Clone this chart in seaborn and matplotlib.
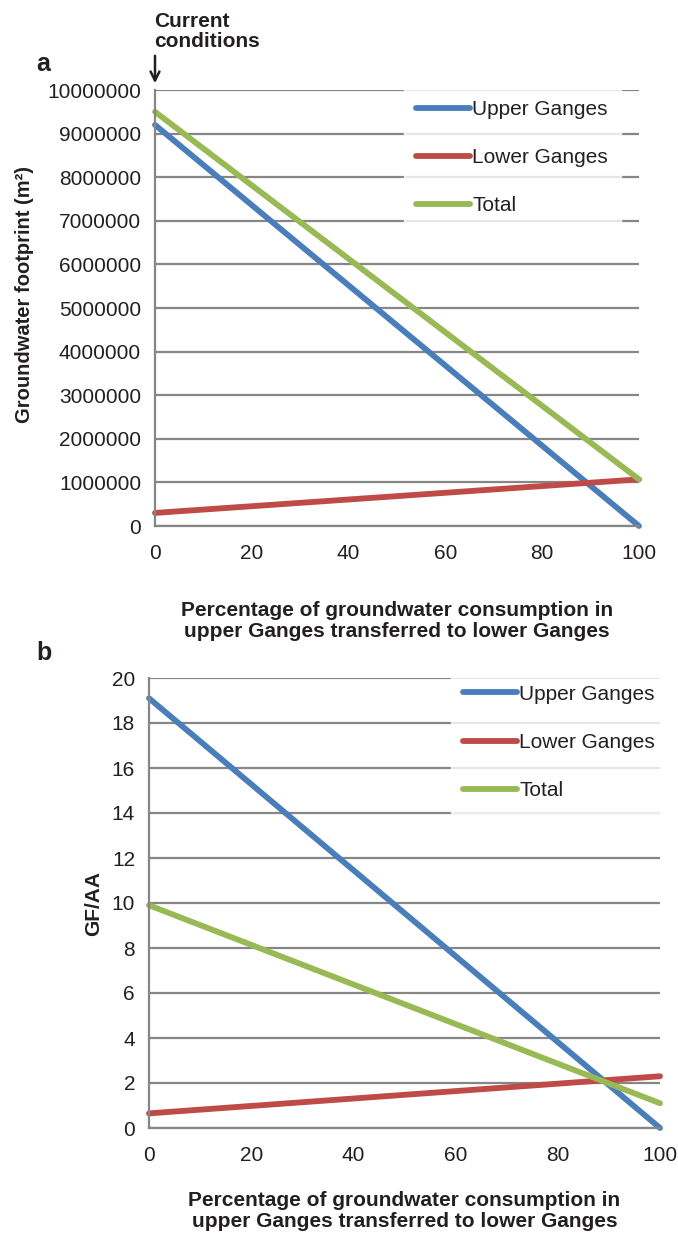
import pandas as pd
import numpy as np
import matplotlib
matplotlib.use("Agg")
import matplotlib.pyplot as plt
import seaborn as sns

# percentage of upper Ganges groundwater consumption moved downstream
pct = [0, 100]
series_names = ["Upper Ganges", "Lower Ganges", "Total"]

# panel a: groundwater footprint (m2)
gf_upper = [9200000, 0]
gf_lower = [300000, 1070000]
gf_total = [9500000, 1070000]

# panel b: GF/AA
ratio_upper = [19.1, 0.0]
ratio_lower = [0.65, 2.3]
ratio_total = [9.9, 1.1]

xlab = "Percentage of groundwater consumption in\nupper Ganges transferred to lower Ganges"

sns.set_style("white")
plt.rcParams["font.family"] = ["Liberation Sans", "DejaVu Sans"]

colors = {"Upper Ganges": "#4A7EBB", "Lower Ganges": "#BE4B48", "Total": "#98B954"}
grid_c = "#868686"
text_c = "#231F20"
W, H = 678, 1235


def long_df(up, lo, tot):
    rows = []
    for name, vals in zip(series_names, [up, lo, tot]):
        for x, v in zip(pct, vals):
            rows.append({"pct": x, "val": v, "series": name})
    return pd.DataFrame(rows)


def style_axes(ax, yticks, ymax, labelpad):
    ax.set_xlim(0, 100)
    ax.set_ylim(0, ymax)
    ax.set_xticks([0, 20, 40, 60, 80, 100])
    ax.set_yticks(yticks)
    ax.yaxis.grid(True, color=grid_c, linewidth=1.6)
    ax.xaxis.grid(False)
    ax.set_axisbelow(True)
    for s in ["top", "right"]:
        ax.spines[s].set_visible(False)
    for s in ["left", "bottom"]:
        ax.spines[s].set_color(grid_c)
        ax.spines[s].set_linewidth(1.6)
    ax.tick_params(axis="both", direction="out", length=5, width=1.3, color=grid_c,
                   labelsize=15, labelcolor=text_c, pad=5)
    ax.tick_params(axis="x", pad=8)
    ax.set_xlabel(xlab, fontsize=15, fontweight="bold", color=text_c, labelpad=labelpad,
                  linespacing=1.1)
    for ln in ax.lines:
        ln.set_solid_capstyle("round")
        ln.set_clip_on(False)


def add_legend(ax, anchor):
    handles = [plt.Line2D([], [], color=colors[n], lw=4.2, solid_capstyle="round")
               for n in series_names]
    leg = ax.legend(handles, series_names, loc="upper left", bbox_to_anchor=anchor,
                    frameon=True, fontsize=15, handlelength=2.6, handletextpad=0.1,
                    labelspacing=1.4, borderpad=0.6, fancybox=False)
    leg.get_frame().set_facecolor("white")
    leg.get_frame().set_edgecolor("white")
    for t in leg.get_texts():
        t.set_color(text_c)


fig = plt.figure(figsize=(W / 100, H / 100), dpi=100)

# ---- panel a
ax1 = fig.add_axes([155 / W, 1 - 526 / H, 484 / W, 436 / H])
sns.lineplot(data=long_df(gf_upper, gf_lower, gf_total), x="pct", y="val", hue="series",
             palette=colors, linewidth=4.2, ax=ax1, legend=False)
style_axes(ax1, np.arange(0, 10000001, 1000000), 10000000, 27.5)
ax1.ticklabel_format(axis="y", style="plain", useOffset=False)
ax1.set_ylabel("Groundwater footprint (m²)", fontsize=14.5, fontweight="bold", color=text_c)
ax1.yaxis.set_label_coords(-0.25, 0.53)
add_legend(ax1, (0.492, 1.03))

fig.text(36 / W, 1 - 64 / H, "a", fontsize=18, fontweight="bold", color=text_c,
         ha="left", va="center")
fig.text(154 / W, 1 - 31.5 / H, "Current\nconditions", fontsize=15, fontweight="bold",
         color=text_c, ha="left", va="center", linespacing=1.1)
ax1.annotate("", xy=(155, H - 86), xytext=(155, H - 53), xycoords="figure pixels",
             textcoords="figure pixels", annotation_clip=False,
             arrowprops=dict(arrowstyle="->", color=text_c, lw=1.8, mutation_scale=16))

# ---- panel b
ax2 = fig.add_axes([149 / W, 1 - 1128 / H, 511 / W, 450 / H])
sns.lineplot(data=long_df(ratio_upper, ratio_lower, ratio_total), x="pct", y="val", hue="series",
             palette=colors, linewidth=4.2, ax=ax2, legend=False)
style_axes(ax2, np.arange(0, 21, 2), 20, 18.7)
ax2.set_ylabel("GF/AA", fontsize=15, fontweight="bold", color=text_c, labelpad=6)
add_legend(ax2, (0.57, 1.036))

fig.text(36 / W, 1 - 653 / H, "b", fontsize=18, fontweight="bold", color=text_c,
         ha="left", va="center")

fig.savefig("out.png", dpi=100, facecolor="white")
